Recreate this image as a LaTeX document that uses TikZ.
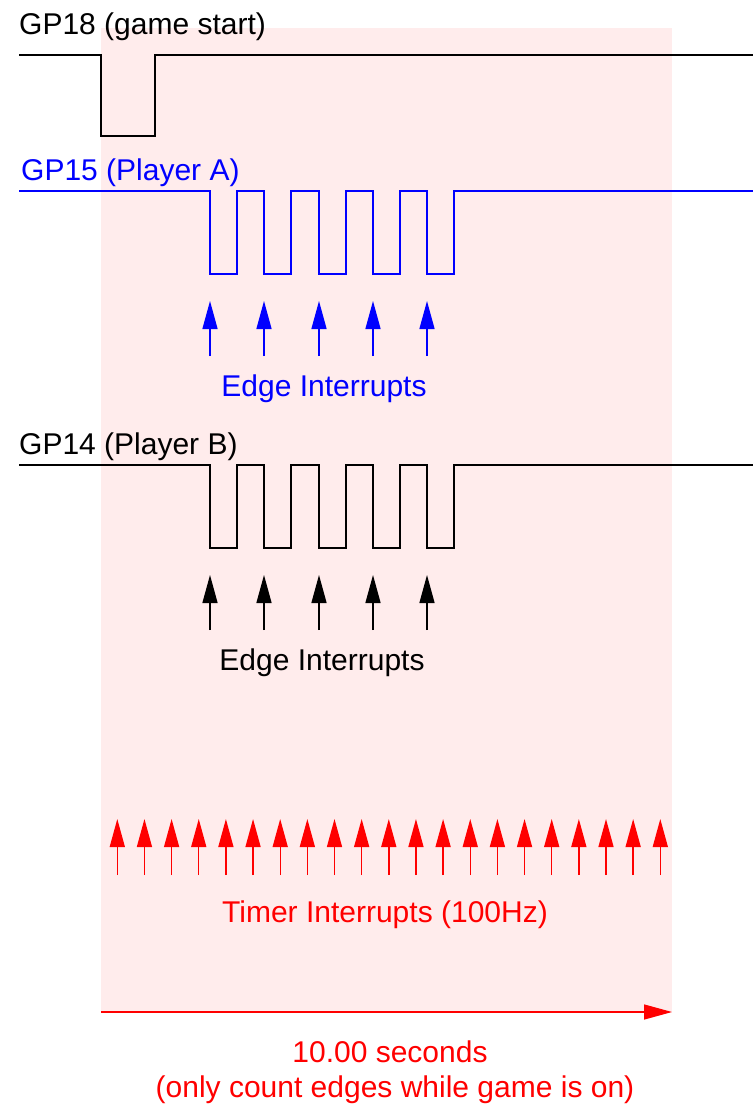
\documentclass[tikz,border=0pt]{standalone}
\usepackage{fontspec}
\setmainfont{Liberation Sans}
\usepackage{xcolor}
\usetikzlibrary{arrows.meta}

\definecolor{gamebg}{RGB}{255,236,236}

\begin{document}
\begin{tikzpicture}[x=1pt,y=-1pt,
		lbl/.style={font=\fontsize{30}{36}\selectfont,inner sep=0pt},
		sig/.style={line width=1.3pt,line join=miter},
		irq/.style={line width=1.4pt,-{Triangle[length=28pt,width=15pt]}}]
		\useasboundingbox (0,0) rectangle (753,1106);
		% game window
		\fill[gamebg] (101,28) rectangle (672,1012);
		%
		\node[lbl,anchor=base west] (gp18) at (19,34) {GP18 (game start)};
		\draw[sig] (19,55) -- (101,55) -- (101,136) -- (155,136) -- (155,55) -- (753,55);
		%
		\node[lbl,anchor=base west,text=blue] (gp15) at (21,180) {GP15 (Player A)};
		\draw[sig,blue] (19,191) foreach \x in {210,264,319,373,427} {
			-- (\x,191) -- (\x,274) -- (\x+27,274) -- (\x+27,191)} -- (753,191);
		\foreach \x [count=\i] in {210,264,319,373,427} {
			\coordinate (ea\i) at (\x,356);
			\coordinate (eat\i) at (\x,301);
			\draw[irq,blue] (ea\i) -- (eat\i);
		}
		\node[lbl,anchor=base,text=blue] (edgeA) at (324,396) {Edge Interrupts};
		%
		\node[lbl,anchor=base west] (gp14) at (19,454) {GP14 (Player B)};
		\draw[sig] (19,465) foreach \x in {210,264,319,373,427} {
			-- (\x,465) -- (\x,548) -- (\x+27,548) -- (\x+27,465)} -- (753,465);
		\foreach \x [count=\i] in {210,264,319,373,427} {
			\coordinate (eb\i) at (\x,630);
			\coordinate (ebt\i) at (\x,575);
			\draw[irq] (eb\i) -- (ebt\i);
		}
		\node[lbl,anchor=base] (edgeB) at (322,670) {Edge Interrupts};
		%
		\foreach \i in {0,...,20} {
			\coordinate (t\i) at (117.3+27.15*\i,875);
			\coordinate (tt\i) at (117.3+27.15*\i,819);
			\draw[irq,red] (t\i) -- (tt\i);
		}
		\node[lbl,anchor=base,text=red] (timer) at (385,922) {Timer Interrupts (100Hz)};
		%
		\coordinate (s0) at (101,1012);
		\coordinate (s1) at (672,1012);
		\draw[irq,red] (s0) -- (s1);
		\node[lbl,anchor=base,text=red] (secs) at (390,1062) {10.00 seconds};
		\node[lbl,anchor=base,text=red] (note) at (395,1097) {(only count edges while game is on)};
	\end{tikzpicture}
\end{document}
